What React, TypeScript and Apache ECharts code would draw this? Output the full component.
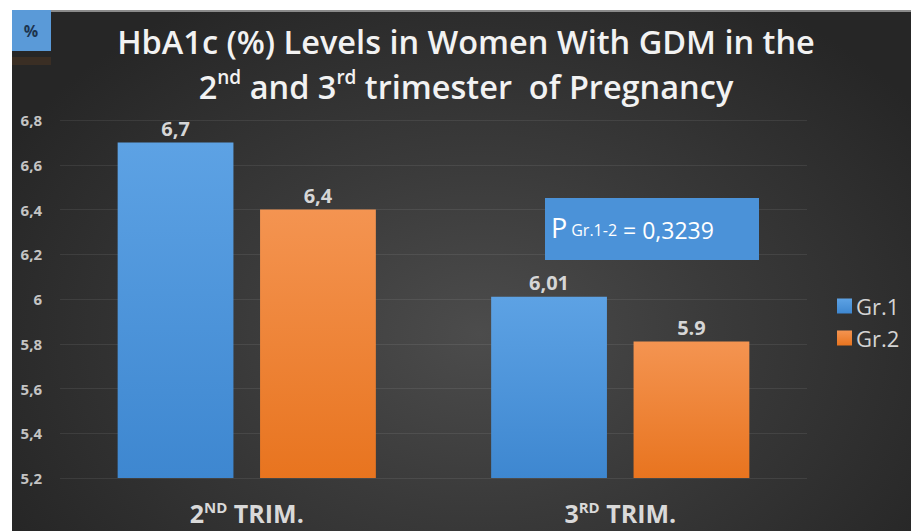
import React, { useEffect, useRef } from "react";
import * as echarts from "echarts";

const categories = ["2ND TRIM.", "3RD TRIM."];
const gr1Values = [6.7, 6.01];
const gr2Values = [6.4, 5.81];
const gr1Labels = ["6,7", "6,01"];
const gr2Labels = ["6,4", "5.9"];
const yTickLabels: Record<string, string> = {
  "5.2": "5,2", "5.4": "5,4", "5.6": "5,6", "5.8": "5,8", "6": "6",
  "6.2": "6,2", "6.4": "6,4", "6.6": "6,6", "6.8": "6,8",
};
const titleLine1 = "HbA1c (%) Levels in Women With GDM in the";
const pGroupText = "Gr.1-2";
const pValueText = " = 0,3239";

const FONT = "'Open Sans', Lato, sans-serif";

export default function App() {
  const ref = useRef<HTMLDivElement>(null);
  useEffect(() => {
    if (!ref.current) return;
    const chart = echarts.init(ref.current, undefined, { renderer: "svg" });
    const catRich = {
      main: { fontSize: 25, fontWeight: "bold", color: "#d9d9d9", fontFamily: FONT },
      sup: { fontSize: 15, fontWeight: "bold", color: "#d9d9d9", fontFamily: FONT, padding: [0, 0, 12, 0] },
    };
    const labelStyle = {
      show: true,
      position: "top",
      distance: 4,
      color: "#d6d6d6",
      fontSize: 20,
      fontWeight: "bold",
      fontFamily: FONT,
    };
    chart.setOption({
      animation: false,
      textStyle: { fontFamily: FONT },
      grid: { left: 60, right: 104, top: 120, bottom: 53, containLabel: false },
      legend: {
        orient: "vertical",
        left: 832,
        top: 290,
        itemWidth: 15,
        itemHeight: 15,
        itemGap: 10,
        icon: "rect",
        textStyle: { color: "#d4d4d4", fontSize: 22, fontFamily: FONT, padding: [0, 0, 0, -1] },
        data: ["Gr.1", "Gr.2"],
      },
      xAxis: {
        type: "category",
        data: categories,
        axisLine: { show: false },
        axisTick: { show: false },
        axisLabel: {
          margin: 21,
          formatter: (v: string) => `{main|${v.slice(0, 1)}}{sup|${v.slice(1, 3)}}{main|${v.slice(3)}}`,
          rich: catRich,
        },
      },
      yAxis: {
        type: "value",
        min: 5.2,
        max: 6.8,
        interval: 0.2,
        axisLine: { show: false },
        axisTick: { show: false },
        axisLabel: {
          margin: 18,
          color: "#c4c4c4",
          fontSize: 15,
          fontWeight: "bold",
          fontFamily: FONT,
          formatter: (v: number) => yTickLabels[String(Math.round(v * 10) / 10)] ?? String(v),
        },
        splitLine: { lineStyle: { color: "rgba(255,255,255,0.08)", width: 1 } },
      },
      series: [
        {
          name: "Gr.1",
          type: "bar",
          data: gr1Values,
          barWidth: "31%",
          barGap: "23%",
          itemStyle: {
            color: new echarts.graphic.LinearGradient(0, 0, 0, 1, [
              { offset: 0, color: "#5da2e4" },
              { offset: 1, color: "#3e87d0" },
            ]),
          },
          label: { ...labelStyle, formatter: (p: any) => gr1Labels[p.dataIndex] },
        },
        {
          name: "Gr.2",
          type: "bar",
          data: gr2Values,
          barWidth: "31%",
          itemStyle: {
            color: new echarts.graphic.LinearGradient(0, 0, 0, 1, [
              { offset: 0, color: "#f49451" },
              { offset: 1, color: "#e8741f" },
            ]),
          },
          label: { ...labelStyle, formatter: (p: any) => gr2Labels[p.dataIndex] },
        },
      ],
      graphic: [
        { type: "rect", shape: { x: 12, y: 10, width: 39, height: 41 }, style: { fill: "#5a9ad8" }, z: 10 },
        {
          type: "text", x: 31, y: 31,
          style: { text: "%", fill: "#1d3550", fontSize: 16, fontWeight: "bold", fontFamily: FONT, align: "center", verticalAlign: "middle" },
          z: 11,
        },
        { type: "rect", shape: { x: 12, y: 57, width: 39, height: 8 }, style: { fill: "rgba(120,70,30,0.25)" }, z: 10 },
        {
          type: "text", x: 466, y: 41,
          style: { text: titleLine1, fill: "#f2f2f2", fontSize: 32.5, fontWeight: 600, fontFamily: FONT, align: "center", verticalAlign: "middle" },
          z: 11,
        },
        {
          type: "text", x: 466, y: 86,
          style: {
            text: "{m|2}{s|nd}{m| and 3}{s|rd}{m| trimester  of Pregnancy}",
            align: "center", verticalAlign: "middle",
            rich: {
              m: { fontSize: 32.5, fontWeight: 600, fill: "#f2f2f2", color: "#f2f2f2", fontFamily: FONT },
              s: { fontSize: 19, fontWeight: 600, fill: "#f2f2f2", color: "#f2f2f2", fontFamily: FONT, padding: [0, 0, 18, 0] },
            },
          },
          z: 11,
        },
        { type: "rect", shape: { x: 545, y: 198, width: 214, height: 62 }, style: { fill: "#4b92d8" }, z: 10 },
        {
          type: "text", x: 551, y: 241,
          style: {
            text: "{p|P}{g|" + pGroupText + "}{v|" + pValueText + "}",
            verticalAlign: "bottom", align: "left",
            rich: {
              p: { fontSize: 27, fill: "#ffffff", color: "#ffffff", fontFamily: FONT, verticalAlign: "bottom", padding: [0, 4, 0, 0] },
              g: { fontSize: 16, fill: "#ffffff", color: "#ffffff", fontFamily: FONT, verticalAlign: "bottom", padding: [0, 0, 3, 0] },
              v: { fontSize: 23, fill: "#ffffff", color: "#ffffff", fontFamily: FONT, verticalAlign: "bottom", padding: [0, 0, 0, 0] },
            },
          },
          z: 11,
        },
      ],
    });
    return () => chart.dispose();
  }, []);

  return (
    <div style={{ position: "fixed", left: 0, top: 0, width: 911, height: 531, background: "#ffffff", overflow: "hidden" }}>
      <div
        style={{
          position: "absolute", left: 12, top: 10, right: 0, bottom: 0,
          borderTop: "2px solid #8a8a8a",
          background: "radial-gradient(ellipse 60% 75% at 52% 62%, #4c4c4c 0%, #3a3a3a 45%, #262626 100%)",
        }}
      />
      <div ref={ref} style={{ position: "absolute", left: 0, top: 0, width: 911, height: 531 }} />
    </div>
  );
}
